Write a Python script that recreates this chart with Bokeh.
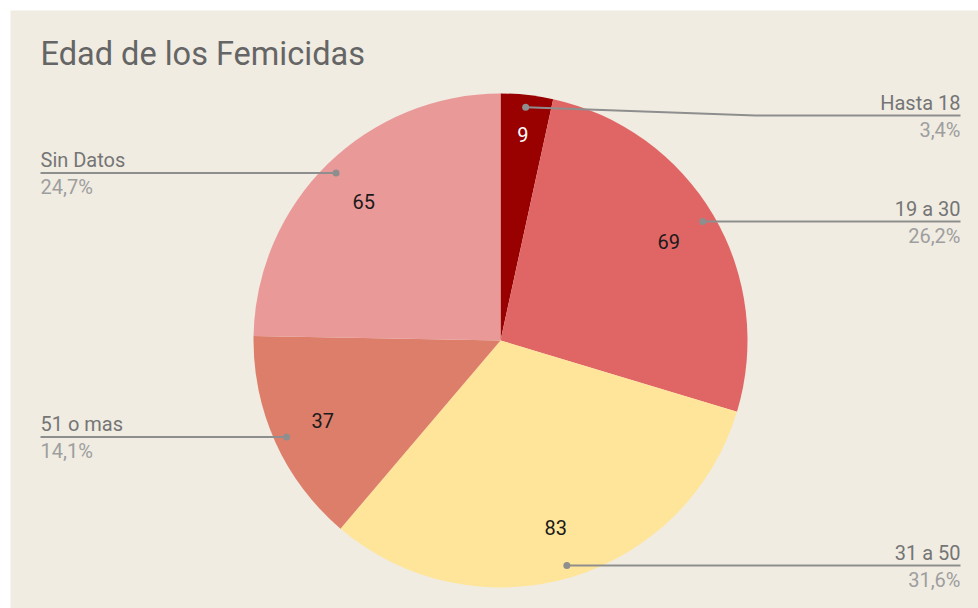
import numpy as np
from bokeh.plotting import figure
from bokeh.models import Range1d, ColumnDataSource, Label
from bokeh.core.properties import value
from bokeh.embed import file_html
from bokeh.resources import INLINE

# ---- data ----
categories = ["Hasta 18", "19 a 30", "31 a 50", "51 o mas", "Sin Datos"]
counts = [9, 69, 83, 37, 65]
colors = ["#990000", "#e06666", "#ffe599", "#dd7e6b", "#ea9999"]
title_text = "Edad de los Femicidas"

# ---- style / layout ----
W, H = 978, 608
BG = "#f0ece2"
FONT = "Roboto"
CX, CY, R = 500, 608 - 340, 247
DOT_R = 0.95
LABEL_R = 0.79
SMALL_LABEL_R = 0.84
RIGHT_X, LEFT_X = 960, 40
TOP_LINE_Y = 608 - 115
ELBOW_X = 755
LINE_COLOR = "#8e8e8e"

vals = np.array(counts, dtype=float)
frac = vals / vals.sum()
cum = np.concatenate([[0], np.cumsum(frac)])
starts = np.pi / 2 - 2 * np.pi * cum[:-1]
ends = np.pi / 2 - 2 * np.pi * cum[1:]
mids = (starts + ends) / 2

p = figure(width=W, height=H, x_range=Range1d(10, 978), y_range=Range1d(0, 598),
           output_backend="svg", toolbar_location=None,
           min_border_left=10, min_border_top=10, min_border_right=0, min_border_bottom=0)
p.axis.visible = False
p.grid.visible = False
p.outline_line_color = None
p.background_fill_color = BG
p.border_fill_color = "white"

src = ColumnDataSource(dict(start=starts, end=ends, color=colors))
p.wedge(x=CX, y=CY, radius=R, start_angle="start", end_angle="end", direction="clock",
        fill_color="color", line_color=None, source=src)

# value labels
lr = np.where(frac < 0.05, SMALL_LABEL_R, LABEL_R) * R
vx = CX + lr * np.cos(mids)
vy = CY + lr * np.sin(mids)
vcol = ["#ffffff" if c == "#990000" else "#1a1a1a" for c in colors]
p.text(x=vx, y=vy, text=[str(c) for c in counts], text_color=vcol,
       text_font=value(FONT), text_font_size="20px", text_align="center",
       text_baseline="middle")

# leader lines and outside labels
dx = CX + DOT_R * R * np.cos(mids)
dy = CY + DOT_R * R * np.sin(mids)
xs, ys = [], []
name_x, name_y, name_al, pct_y = [], [], [], []
pcts = []
for i in range(len(counts)):
    right = np.cos(mids[i]) > 0
    ly = min(dy[i], TOP_LINE_Y)
    if right:
        if ly != dy[i]:
            xs.append([dx[i], ELBOW_X, RIGHT_X]); ys.append([dy[i], ly, ly])
        else:
            xs.append([dx[i], RIGHT_X]); ys.append([dy[i], ly])
        name_x.append(RIGHT_X); name_al.append("right")
    else:
        xs.append([LEFT_X, dx[i]]); ys.append([ly, dy[i]])
        name_x.append(LEFT_X); name_al.append("left")
    name_y.append(ly + 13)
    pct_y.append(ly - 14)
    pcts.append(("%.1f" % (frac[i] * 100)).replace(".", ",") + "%")

p.multi_line(xs=xs, ys=ys, line_color=LINE_COLOR, line_width=2)
p.scatter(x=dx, y=dy, size=7, fill_color=LINE_COLOR, line_color=None)

p.text(x=name_x, y=name_y, text=categories, text_align=name_al, text_baseline="alphabetic",
       text_color="#757575", text_font=value(FONT), text_font_size="20px")
p.text(x=name_x, y=pct_y, text=pcts, text_align=name_al, text_baseline="alphabetic",
       text_color="#9e9e9e", text_font=value(FONT), text_font_size="20px")

p.add_layout(Label(x=40, y=608 - 66 + 13, text=title_text, text_font=FONT, text_font_size="32.5px",
                   text_color="#656565", text_baseline="alphabetic"))

open("out.html", "w").write(file_html(p, INLINE))
